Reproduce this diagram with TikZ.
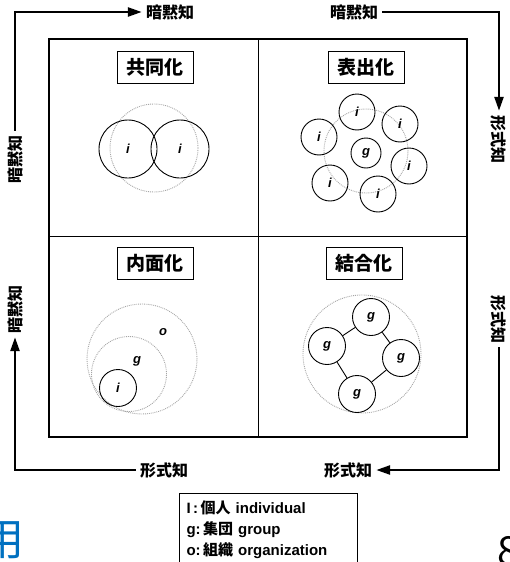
\documentclass[tikz,border=0pt]{standalone}
\usepackage{fontspec}
\setmainfont{Liberation Sans}
\newfontfamily\jp{Noto Sans CJK JP}
\usetikzlibrary{arrows.meta}
\definecolor{slideblue}{RGB}{0,112,192}

\begin{document}
\begin{tikzpicture}[x=1pt,y=-1pt,
        flow/.style={line width=2.5pt,-{Triangle[length=14pt,width=9pt]}},
        side/.style={font=\jp\bfseries\fontsize{16}{16}\selectfont,inner sep=4pt},
        title/.style={draw,line width=1pt,font=\jp\bfseries\fontsize{19}{19}\selectfont,minimum width=76pt,minimum height=32pt,inner sep=0pt},
        lab/.style={font=\bfseries\itshape\fontsize{13}{13}\selectfont,inner sep=0pt},
        ic/.style={lab,circle,draw,line width=0.9pt},
        dotc/.style={draw=gray!70,densely dotted,line width=0.9pt}]

        \useasboundingbox (0,0) rectangle (510,562);

        \draw[line width=1.8pt] (49,39) rectangle (467,437);
        \draw[line width=1pt] (258,39) -- (258,437) (49,236) -- (467,236);

        \node[side] (tl) at (170,12) {暗黙知};
        \node[side] (tr) at (354,12) {暗黙知};
        \node[side,rotate=90] (lu) at (15,159) {暗黙知};
        \node[side,rotate=90] (ll) at (15,309) {暗黙知};
        \node[side,rotate=-90] (ru) at (499,139) {形式知};
        \node[side,rotate=-90] (rl) at (499,319) {形式知};
        \node[side] (bl) at (164,470) {形式知};
        \node[side] (br) at (348,470) {形式知};

        \draw[flow] (lu.east) |- (tl.west);
        \draw[flow] (tr.east) -| (ru.west);
        \draw[flow] (rl.east) |- (br.east);
        \draw[flow] (bl.west) -| (ll.west);

        \node[title] (soc) at (155,67) {共同化};
        \node[title] (ext) at (366,67) {表出化};
        \node[title] (intl) at (155,263) {内面化};
        \node[title] (comb) at (364,263) {結合化};

        % 共同化
        \draw[dotc] (154,148) circle (44pt);
        \node[ic,minimum size=58pt] (s1) at (128,149) {i};
        \node[ic,minimum size=58pt] (s2) at (180,149) {i};

        % 表出化
        \draw[dotc] (366,151) circle (42pt);
        \node[ic,minimum size=30pt] (eg) at (366,153) {g};
        \foreach \p [count=\k] in {(357,112),(400,124),(319,137),(409,166),(330,183),(378,194)}
            \node[ic,minimum size=36pt] (e\k) at \p {i};

        % 内面化
        \draw[dotc] (142,359) circle (55pt);
        \draw[dotc] (129,374) circle (37.5pt);
        \node[ic,minimum size=37pt] (ni) at (118,388) {i};
        \node[lab] (no) at (163,332) {o};
        \node[lab] (ng) at (137,361) {g};

        % 結合化
        \draw[dotc] (362,354) circle (59pt);
        \node[ic,minimum size=37pt] (c1) at (371,317) {g};
        \node[ic,minimum size=37pt] (c2) at (327,346) {g};
        \node[ic,minimum size=37pt] (c3) at (401,358) {g};
        \node[ic,minimum size=37pt] (c4) at (357,394) {g};
        \draw[line width=0.9pt] (c1) -- (c2) (c1) -- (c3) (c3) -- (c4) (c2) -- (c4);

        \node[draw,line width=1pt,anchor=north west,align=left,text width=164pt,inner sep=7pt,
            font=\bfseries\fontsize{15}{21}\selectfont] (key) at (179,493)
            {I\,:\,{\jp 個人} individual\\g:\,{\jp 集団} group\\o:\,{\jp 組織} organization};

        \node[anchor=base west,inner sep=0pt,text=slideblue,font=\jp\fontsize{44}{44}\selectfont] (yo) at (-20,555) {用};
        \node[anchor=base west,inner sep=0pt,font=\jp\fontsize{40}{40}\selectfont] (pg) at (497,565) {8};

        \end{tikzpicture}
\end{document}
